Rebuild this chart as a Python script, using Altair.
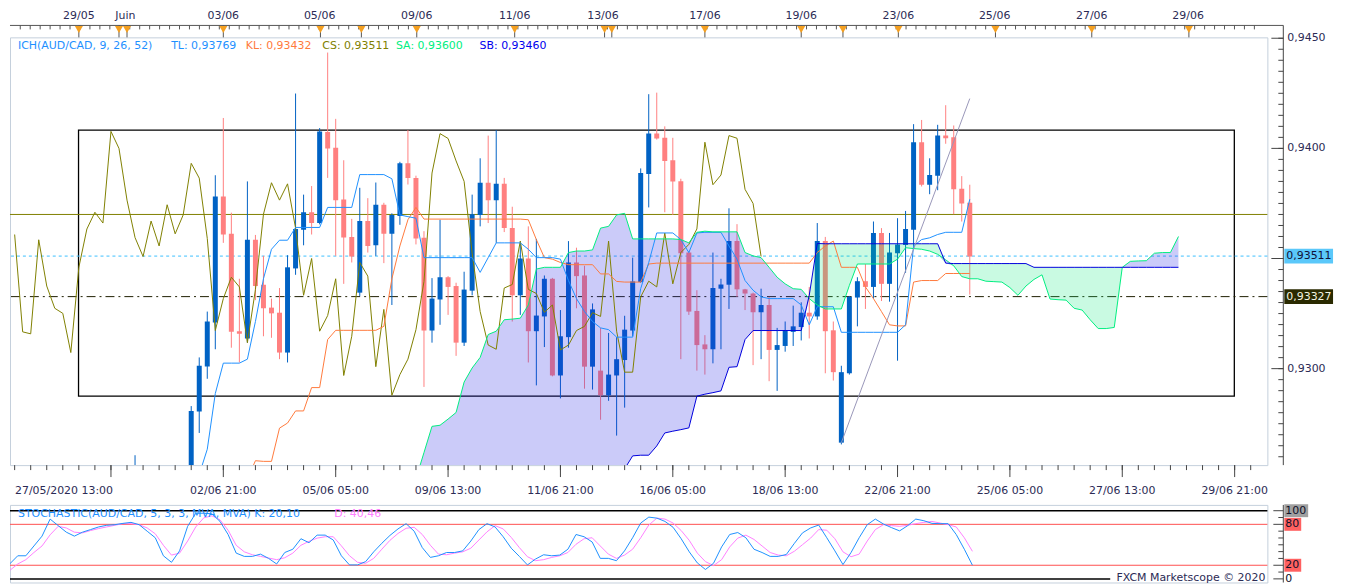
import altair as alt
import pandas as pd
import numpy as np

FONT = "DejaVu Sans"
TXT = "#2b2b55"
W, H, H2 = 1264, 430, 78
XMIN, XMAX = -21.96, 133.46
YMIN, YMAX = 0.92562, 0.94504
SMIN, SMAX = -5.3, 108.5
BULL, BEAR = "#0062c4", "#ff8080"

# ---------------- candles (4H) ----------------
cand_k = [-7] + list(range(98))
opens = [0.9245, 0.9250, 0.92805, 0.93010, 0.93210, 0.93781, 0.93612, 0.93170, 0.93137, 0.93585,
         0.93381, 0.93277, 0.93254, 0.93073, 0.93455, 0.93631, 0.93710, 0.93661, 0.94074, 0.94003,
         0.93768, 0.93598, 0.93345, 0.93670, 0.93560, 0.93744, 0.93612, 0.93693, 0.93932, 0.93865,
         0.93594, 0.93173, 0.93314, 0.93415, 0.93375, 0.93118, 0.93354, 0.93698, 0.93844, 0.93765,
         0.93839, 0.93638, 0.93333, 0.93500, 0.93170, 0.93237, 0.93408, 0.92969, 0.93143, 0.93482,
         0.93423, 0.93009, 0.92991, 0.92879, 0.92969, 0.93039, 0.93173, 0.93393, 0.93884, 0.94067,
         0.94048, 0.93946, 0.93851, 0.93527, 0.93262, 0.93110, 0.93088, 0.93363, 0.93381, 0.93579,
         0.93360, 0.93341, 0.93256, 0.93289, 0.93085, 0.93103, 0.93167, 0.93189, 0.93254, 0.93237,
         0.93579, 0.93174, 0.92664, 0.92979, 0.93323, 0.93397, 0.93371, 0.93616, 0.93385, 0.93524,
         0.93561, 0.93631, 0.94028, 0.93835, 0.93876, 0.94058, 0.94051, 0.93817, 0.93753]
highs = [0.92607, 0.92830, 0.93051, 0.93259, 0.93878, 0.94138, 0.93708, 0.93408, 0.93850, 0.93607,
         0.93512, 0.93318, 0.93366, 0.93515, 0.94249, 0.93790, 0.93829, 0.94092, 0.94435, 0.94134,
         0.93946, 0.93680, 0.93821, 0.93774, 0.93845, 0.93753, 0.93705, 0.93939, 0.94083, 0.93876,
         0.93624, 0.93411, 0.93676, 0.93420, 0.93390, 0.93440, 0.93790, 0.93955, 0.94058, 0.94083,
         0.93866, 0.93735, 0.93571, 0.93646, 0.93589, 0.93423, 0.93412, 0.93266, 0.93579, 0.93549,
         0.93467, 0.93296, 0.93185, 0.93162, 0.93143, 0.93240, 0.93504, 0.93909, 0.94246, 0.94253,
         0.94100, 0.94048, 0.93862, 0.93534, 0.93356, 0.93152, 0.93527, 0.93408, 0.93728, 0.93656,
         0.93362, 0.93345, 0.93363, 0.93326, 0.93185, 0.93214, 0.93286, 0.93301, 0.93371, 0.93661,
         0.93598, 0.93214, 0.93013, 0.93330, 0.93415, 0.93475, 0.93668, 0.93638, 0.93616, 0.93683,
         0.93716, 0.94110, 0.94129, 0.93955, 0.94107, 0.94196, 0.94104, 0.93874, 0.93835]
lows = [0.9240, 0.9245, 0.92708, 0.92954, 0.93088, 0.93571, 0.93095, 0.93028, 0.93118, 0.93311,
        0.93147, 0.93140, 0.93043, 0.93028, 0.93426, 0.93560, 0.93609, 0.93655, 0.93866, 0.93512,
        0.93385, 0.93482, 0.93330, 0.93527, 0.93512, 0.93479, 0.93289, 0.93653, 0.93836, 0.93564,
        0.92917, 0.93118, 0.93199, 0.93244, 0.93058, 0.93103, 0.93333, 0.93646, 0.93661, 0.93571,
        0.93620, 0.93214, 0.93244, 0.93028, 0.92924, 0.93098, 0.92965, 0.92865, 0.93095, 0.93274,
        0.92909, 0.92905, 0.92768, 0.92854, 0.92696, 0.92823, 0.93147, 0.93390, 0.93732, 0.94040,
        0.93710, 0.93698, 0.93043, 0.93244, 0.92991, 0.92973, 0.93024, 0.93088, 0.93271, 0.93326,
        0.93266, 0.93016, 0.93043, 0.92943, 0.92899, 0.93077, 0.93103, 0.93128, 0.93137, 0.93222,
        0.92979, 0.92946, 0.92656, 0.92973, 0.93192, 0.93271, 0.93318, 0.93307, 0.93304, 0.93036,
        0.93435, 0.93542, 0.93827, 0.93792, 0.93810, 0.94021, 0.93701, 0.93668, 0.93336]
closes = [0.9252, 0.92808, 0.93013, 0.93214, 0.93781, 0.93609, 0.93167, 0.93158, 0.93585, 0.93375,
          0.93274, 0.93251, 0.93073, 0.93460, 0.93634, 0.93710, 0.93661, 0.94077, 0.94000, 0.93765,
          0.93595, 0.93509, 0.93670, 0.93557, 0.93744, 0.93612, 0.93698, 0.93932, 0.93865, 0.93591,
          0.93173, 0.93318, 0.93415, 0.93371, 0.93118, 0.93359, 0.93701, 0.93844, 0.93765, 0.93839,
          0.93638, 0.93333, 0.93500, 0.93170, 0.93241, 0.93408, 0.92969, 0.93147, 0.93482, 0.93420,
          0.93009, 0.93269, 0.92879, 0.92973, 0.93043, 0.93177, 0.93396, 0.93888, 0.94067, 0.94045,
          0.93943, 0.93850, 0.93524, 0.93259, 0.93107, 0.93088, 0.93366, 0.93382, 0.93579, 0.93360,
          0.93341, 0.93256, 0.93289, 0.93085, 0.93107, 0.93173, 0.93192, 0.93254, 0.93237, 0.93579,
          0.93170, 0.92984, 0.92984, 0.93326, 0.93397, 0.93371, 0.93616, 0.93385, 0.93527, 0.93564,
          0.93634, 0.94028, 0.93835, 0.93879, 0.94058, 0.94046, 0.93814, 0.93750, 0.93509]

# ---------------- Ichimoku ----------------
tenkan_k = list(range(98))
tenkan = [0.9245, 0.9252, 0.92634, 0.92887, 0.93025, 0.93025, 0.93025, 0.93043, 0.93214, 0.93408,
          0.93542, 0.93583, 0.93583, 0.93641, 0.93641, 0.93641, 0.93641, 0.93732, 0.93732, 0.93732,
          0.93732, 0.93881, 0.93881, 0.93881, 0.93881, 0.93862, 0.93698, 0.93690, 0.93683, 0.93504,
          0.93504, 0.93504, 0.93504, 0.93504, 0.93504, 0.93504, 0.93437, 0.93504, 0.93571, 0.93571,
          0.93571, 0.93571, 0.93542, 0.93504, 0.93504, 0.93504, 0.93497, 0.93400, 0.93318, 0.93259,
          0.93214, 0.93185, 0.93177, 0.93143, 0.93143, 0.93143, 0.93363, 0.93482, 0.93616, 0.93616,
          0.93616, 0.93586, 0.93527, 0.93616, 0.93619, 0.93619, 0.93619, 0.93557, 0.93497, 0.93400,
          0.93356, 0.93326, 0.93318, 0.93318, 0.93318, 0.93318, 0.93289, 0.93199, 0.93281, 0.93281,
          0.93281, 0.93165, 0.93165, 0.93165, 0.93165, 0.93165, 0.93165, 0.93165, 0.93165, 0.93199,
          0.93557, 0.93586, 0.93594, 0.93609, 0.93619, 0.93619, 0.93619, 0.93769]
kijun_k = list(range(7, 98))
kijun = [0.9250, 0.92582, 0.92579, 0.92579, 0.92730, 0.92753, 0.92808, 0.92808, 0.92914, 0.92914,
         0.93132, 0.93174, 0.93174, 0.93174, 0.93174, 0.93174, 0.93174, 0.93192, 0.93408, 0.93557,
         0.93676, 0.93732, 0.93679, 0.93679, 0.93679, 0.93679, 0.93679, 0.93679, 0.93679, 0.93679,
         0.93679, 0.93679, 0.93679, 0.93679, 0.93679, 0.93676, 0.93586, 0.93504, 0.93497, 0.93482,
         0.93472, 0.93472, 0.93472, 0.93472, 0.93430, 0.93430, 0.93396, 0.93393, 0.93393, 0.93393,
         0.93475,
         0.93479, 0.93479, 0.93479, 0.93479, 0.93479, 0.93479, 0.93479, 0.93479, 0.93479, 0.93479,
         0.93479, 0.93479, 0.93479, 0.93479, 0.93479, 0.93479, 0.93479, 0.93479, 0.93479, 0.93479,
         0.93527, 0.93557, 0.93579, 0.93460, 0.93460, 0.93460, 0.93371, 0.93318, 0.93259, 0.93199,
         0.93194, 0.93194, 0.93393, 0.93400, 0.93400, 0.93400, 0.93432, 0.93432, 0.93432, 0.93432]
chikou_k = list(range(-22, 72))
chikou = [0.93609, 0.93167, 0.93158, 0.93585, 0.93375, 0.93274, 0.93251, 0.93073, 0.93460, 0.93634,
          0.93710, 0.93661, 0.94077, 0.94000, 0.93765, 0.93595, 0.93509, 0.93670, 0.93557, 0.93744,
          0.93612, 0.93698, 0.93932, 0.93865, 0.93591, 0.93173, 0.93318, 0.93415, 0.93371, 0.93118,
          0.93359, 0.93701, 0.93844, 0.93765, 0.93839, 0.93638, 0.93333, 0.93500, 0.93170, 0.93241,
          0.93408, 0.92969, 0.93147, 0.93482, 0.93420, 0.93009, 0.93269, 0.92879, 0.92973, 0.93043,
          0.93177, 0.93396, 0.93888, 0.94067, 0.94045, 0.93943, 0.93850, 0.93524, 0.93259, 0.93107,
          0.93088, 0.93366, 0.93382, 0.93579, 0.93360, 0.93341, 0.93256, 0.93289, 0.93085, 0.93107,
          0.93173, 0.93192, 0.93254, 0.93237, 0.93579, 0.93170, 0.92984, 0.92984, 0.93326, 0.93397,
          0.93371, 0.93616, 0.93385, 0.93527, 0.93564, 0.93634, 0.94028, 0.93835, 0.93879, 0.94058,
          0.94046, 0.93814, 0.93750, 0.93509]
cloud_k = list(range(28, 124))
senkou_a = [0.9250, 0.92619, 0.92738, 0.92743, 0.92771, 0.92801, 0.92939, 0.93003, 0.93051, 0.93155,
            0.93170, 0.93222, 0.93225, 0.93229, 0.93289, 0.93452, 0.93460, 0.93460, 0.93460, 0.93527,
            0.93534, 0.93534, 0.93539, 0.93638, 0.93646, 0.93698, 0.93705, 0.93589, 0.93589, 0.93589,
            0.93589, 0.93589, 0.93589, 0.93586, 0.93571, 0.93619, 0.93624, 0.93621, 0.93621, 0.93621,
            0.93621, 0.93527, 0.93512, 0.93504, 0.93460, 0.93415, 0.93385, 0.93363, 0.93360, 0.93318,
            0.93289, 0.93271, 0.93271, 0.93271, 0.93378, 0.93475, 0.93475, 0.93475, 0.93475, 0.93475,
            0.93497, 0.93549, 0.93545, 0.93542, 0.93534, 0.93519, 0.93494, 0.93467, 0.93418, 0.93408,
            0.93408, 0.93397, 0.93395, 0.93393, 0.93368, 0.93333, 0.93375, 0.93405, 0.93426, 0.93316,
            0.93313, 0.93311, 0.93274, 0.93266, 0.93222, 0.93182, 0.93182, 0.93187, 0.93460, 0.93487,
            0.93489, 0.93490, 0.93524, 0.93527, 0.93527, 0.93600]
senkou_b = [0.9250, 0.9250, 0.9250, 0.9250, 0.9250, 0.9250, 0.9250, 0.9250, 0.9250, 0.9250,
            0.9250, 0.9250, 0.9250, 0.9250, 0.9250, 0.9250, 0.9250, 0.9250, 0.9250, 0.9250,
            0.9250, 0.9250, 0.9250, 0.9250, 0.9250, 0.9252, 0.92545, 0.92604, 0.92607, 0.92607,
            0.92649, 0.92708, 0.92716, 0.92723, 0.92731, 0.92875, 0.92884, 0.92891, 0.92899, 0.93006,
            0.93009, 0.93132, 0.93173, 0.93173, 0.93173, 0.93173, 0.93173, 0.93173, 0.93173, 0.93333,
            0.93568, 0.93567, 0.93567, 0.93567, 0.93567, 0.93567, 0.93567, 0.93567, 0.93567, 0.93567,
            0.93567, 0.93567, 0.93567, 0.93567, 0.93567, 0.93567, 0.93479, 0.93477, 0.93477, 0.93477,
            0.93477, 0.93477, 0.93477, 0.93477, 0.93477, 0.93477, 0.93477, 0.93460, 0.93460, 0.93460,
            0.93460, 0.93460, 0.93460, 0.93460, 0.93460, 0.93460, 0.93460, 0.93460, 0.93460, 0.93460,
            0.93460, 0.93460, 0.93460, 0.93460, 0.93460, 0.93460]

# drawn objects
box_k = [-14.04, 129.96]
box_p = [0.94083, 0.92875]
trend_k = [81, 97]
trend_p = [0.92664, 0.94226]
level_olive, level_cs, level_dash = 0.93700, 0.93511, 0.93327

# ---------------- Stochastic ----------------
stoch_k = list(range(-22, 98))
stoch_K = [21.9, 33.9, 33.9, 48.3, 62.7, 87.7, 78.1, 68.5, 62.7, 68.5,
           72.3, 76.2, 78.6, 79.5, 81.4, 82.9, 79.5, 69.9, 60.3, 33.9,
           24.3, 41.1, 77.1, 96.3, 96.3, 95.4, 84.3, 65.1, 37.8, 33.0,
           33.0, 36.3, 30.1, 21.9, 38.7, 43.5, 58.9, 53.1, 64.2, 64.2,
           57.0, 33.9, 20.5, 20.5, 25.3, 39.7, 52.2, 63.7, 73.3, 81.0,
           69.9, 45.9, 31.5, 33.9, 38.7, 38.7, 41.1, 55.5, 72.3, 81.0,
           76.2, 61.8, 45.0, 33.0, 20.5, 29.1, 35.4, 33.9, 34.9, 43.5,
           65.1, 61.8, 54.1, 30.1, 30.1, 26.7, 41.1, 60.3, 81.9, 90.6,
           89.1, 84.3, 75.7, 58.9, 39.7, 23.4, 13.8, 22.9, 46.9, 65.1,
           68.0, 60.3, 43.5, 38.7, 33.0, 33.0, 35.8, 52.2, 67.5, 74.7,
           79.0, 60.3, 41.1, 21.0, 38.7, 60.3, 79.5, 87.7, 80.5, 75.2,
           70.4, 78.1, 87.7, 85.3, 81.4, 81.0, 81.0, 65.1, 43.5, 20.1]
stoch_D = [12.3, 21.9, 28.2, 38.7, 48.3, 64.6, 77.1, 74.7, 68.5, 67.5,
           70.9, 73.8, 76.2, 78.6, 81.0, 81.0, 79.5, 74.7, 66.1, 49.3,
           34.9, 37.8, 55.5, 76.2, 89.6, 92.5, 86.7, 71.4, 49.3, 39.7,
           35.4, 33.0, 30.6, 28.2, 31.0, 37.8, 49.3, 55.0, 59.8, 61.8,
           61.8, 48.5, 34.0, 24.3, 22.9, 30.1, 43.5, 56.5, 66.6, 74.2,
           75.7, 65.1, 49.3, 36.3, 35.4, 37.8, 39.7, 45.0, 57.0, 69.0,
           78.1, 73.3, 60.8, 45.9, 32.5, 26.7, 28.2, 31.5, 33.9, 38.7,
           50.7, 58.9, 60.3, 48.3, 36.3, 30.1, 34.9, 43.5, 60.3, 79.0,
           89.1, 87.7, 81.9, 70.9, 56.5, 37.8, 25.3, 19.5, 28.2, 46.9,
           59.8, 64.2, 57.9, 48.3, 38.7, 34.9, 33.9, 40.6, 50.2, 59.8,
           72.3, 71.4, 58.9, 39.7, 32.5, 36.3, 55.5, 72.3, 79.5, 78.1,
           77.1, 78.6, 81.0, 82.9, 84.3, 81.9, 79.5, 76.2, 60.3, 40.46]

# ---------------- axis labels ----------------
top_labels = ["29/05", "Juin", "03/06", "05/06", "09/06", "11/06", "13/06", "17/06", "19/06",
              "23/06", "25/06", "27/06", "29/06"]
top_pos = [-14.0, -8.2, 4.0, 16.0, 28.1, 40.3, 51.3, 64.0, 76.0, 88.1, 100.1, 112.2, 124.2]
event_pos = [-14.0, -9.0, -8.0, 4.0, 16.1, 21.2, 28.1, 40.3, 51.5, 52.4, 64.0, 76.0, 81.2,
             88.1, 100.2, 112.2, 124.3]
bottom_labels = ["27/05/2020 13:00", "02/06 21:00", "05/06 05:00", "09/06 13:00", "11/06 21:00",
                 "16/06 05:00", "18/06 13:00", "22/06 21:00", "25/06 05:00", "27/06 13:00",
                 "29/06 21:00"]
bottom_pos = [XMIN, 4, 18, 32, 46, 60, 74, 88, 102, 116, 130]
bottom_major = [-10, 4, 18, 32, 46, 60, 74, 88, 102, 116, 130]
price_major = [0.9300, 0.9350, 0.9400, 0.9450]
price_lab_vals = [0.9300, 0.9400, 0.9450]
price_labels = ["0,9300", "0,9400", "0,9450"]
stoch_labels = ["100", "80", "20", "0"]
stoch_major = [100, 80, 20, 0]

# ---------------- helpers ----------------
xs = alt.Scale(domain=[XMIN, XMAX], nice=False, zero=False)
ys = alt.Scale(domain=[YMIN, YMAX], nice=False, zero=False)
ss = alt.Scale(domain=[SMIN, SMAX], nice=False, zero=False)
dummy = pd.DataFrame({"d": [0]})


def X(f="k"):
    return alt.X(f"{f}:Q", scale=xs, axis=None)


def Y(f, sc=None):
    return alt.Y(f"{f}:Q", scale=sc or ys, axis=None)


def label(txt, x, y, color, align="left", size=11, baseline="middle"):
    return alt.Chart(dummy).mark_text(text=txt, font=FONT, fontSize=size, color=color,
                                      align=align, baseline=baseline).encode(
        x=alt.value(x), y=alt.value(y))


def hrule(x1, x2, y, color, width=1):
    return alt.Chart(dummy).mark_rule(color=color, strokeWidth=width).encode(
        x=alt.value(x1), x2=alt.value(x2), y=alt.value(y))


# ---------------- main panel ----------------
cdf = pd.DataFrame(dict(k=cand_k, o=opens, h=highs, l=lows, c=closes))
cdf["col"] = np.where(cdf.c >= cdf.o, BULL, BEAR)
wicks = alt.Chart(cdf).mark_rule(clip=True, strokeWidth=1).encode(
    x=X(), y=Y("l"), y2="h:Q", color=alt.Color("col:N", scale=None))
bodies = alt.Chart(cdf).mark_bar(clip=True, size=5).encode(
    x=X(), y=Y("o"), y2="c:Q", color=alt.Color("col:N", scale=None))

cl = pd.DataFrame(dict(k=cloud_k, sa=senkou_a, sb=senkou_b))
cl["lo"] = cl[["sa", "sb"]].min(axis=1)
lav = alt.Chart(cl).mark_area(clip=True, color="#2424e6", opacity=0.24).encode(
    x=X(), y=Y("sa"), y2="lo:Q")
mint = alt.Chart(cl).mark_area(clip=True, color="#00e676", opacity=0.21).encode(
    x=X(), y=Y("sb"), y2="lo:Q")
sa_line = alt.Chart(cl).mark_line(clip=True, color="#00ee80", strokeWidth=1).encode(x=X(), y=Y("sa"))
sb_line = alt.Chart(cl).mark_line(clip=True, color="#0000dd", strokeWidth=1).encode(x=X(), y=Y("sb"))


def series(kk, vv, color):
    d = pd.DataFrame(dict(k=kk, v=vv))
    return alt.Chart(d).mark_line(clip=True, color=color, strokeWidth=1).encode(x=X(), y=Y("v"))


tl_line = series(tenkan_k, tenkan, "#1e90ff")
kl_line = series(kijun_k, kijun, "#ff7a3c")
cs_line = series(chikou_k, chikou, "#808000")

lv = pd.DataFrame(dict(p=[level_olive]))
lv_olive = alt.Chart(lv).mark_rule(color="#808000", strokeWidth=1).encode(y=Y("p"))
lv2 = pd.DataFrame(dict(p=[level_cs]))
lv_cs = alt.Chart(lv2).mark_rule(color="#3cc0ff", strokeWidth=1, strokeDash=[3, 3]).encode(y=Y("p"))
lv3 = pd.DataFrame(dict(p=[level_dash]))
lv_dd = alt.Chart(lv3).mark_rule(color="#1e1e00", strokeWidth=1, strokeDash=[9, 4, 2, 4]).encode(y=Y("p"))

bx = pd.DataFrame(dict(k1=[box_k[0]], k2=[box_k[1]], p1=[box_p[0]], p2=[box_p[1]]))
rect = alt.Chart(bx).mark_rect(fillOpacity=0, stroke="black", strokeWidth=1.3).encode(
    x=X("k1"), x2="k2:Q", y=Y("p1"), y2="p2:Q")
tr = pd.DataFrame(dict(k=trend_k, v=trend_p))
trend = alt.Chart(tr).mark_line(color="#9896b8", strokeWidth=1).encode(x=X(), y=Y("v"))

# top axis (ruler)
top_rule = hrule(0, W + 16, -12, "#555555")
minor_top = pd.DataFrame(dict(k=np.arange(-21.3, 133.3, 1.24)))
top_minor = alt.Chart(minor_top).mark_rule(color="#555555").encode(
    x=X(), y=alt.value(-12), y2=alt.value(-8))
ev = pd.DataFrame(dict(k=event_pos))
top_major = alt.Chart(ev).mark_rule(color="#555555").encode(x=X(), y=alt.value(-12), y2=alt.value(0))
tri = alt.Chart(ev).mark_point(shape="triangle-down", filled=True, color="#f5a020", opacity=1,
                               size=65).encode(x=X(), y=alt.value(-8))
tl_df = pd.DataFrame(dict(k=top_pos, t=top_labels))
top_text = alt.Chart(tl_df).mark_text(font=FONT, fontSize=11, color=TXT, baseline="middle").encode(
    x=X(), y=alt.value(-21), text="t:N")

# bottom axis
bm = pd.DataFrame(dict(k=np.arange(-22, 134, 2)))
bot_minor = alt.Chart(bm).mark_rule(color="#444444").encode(x=X(), y=alt.value(H), y2=alt.value(H + 5))
bj = pd.DataFrame(dict(k=bottom_major))
bot_major = alt.Chart(bj).mark_rule(color="#444444").encode(x=X(), y=alt.value(H), y2=alt.value(H + 12))
bl_first = pd.DataFrame(dict(k=bottom_pos[:1], t=bottom_labels[:1]))
bl_rest = pd.DataFrame(dict(k=bottom_pos[1:], t=bottom_labels[1:]))
bot_text1 = alt.Chart(bl_first).mark_text(font=FONT, fontSize=11, color=TXT, align="left",
                                           baseline="middle").encode(x=X(), y=alt.value(H + 26), text="t:N")
bot_text2 = alt.Chart(bl_rest).mark_text(font=FONT, fontSize=11, color=TXT, align="center",
                                          baseline="middle").encode(x=X(), y=alt.value(H + 26), text="t:N")

# right price axis
r_line = alt.Chart(dummy).mark_rule(color="#444444").encode(
    x=alt.value(W + 16), y=alt.value(-12), y2=alt.value(H))
pm = pd.DataFrame(dict(p=np.arange(0.9260, 0.94505, 0.0005)))
r_minor = alt.Chart(pm).mark_rule(color="#444444").encode(
    x=alt.value(W + 11), x2=alt.value(W + 16), y=Y("p"))
pj = pd.DataFrame(dict(p=price_major))
r_major = alt.Chart(pj).mark_rule(color="#444444").encode(
    x=alt.value(W + 4), x2=alt.value(W + 16), y=Y("p"))
pl = pd.DataFrame(dict(p=price_lab_vals, t=price_labels))
r_text = alt.Chart(pl).mark_text(font=FONT, fontSize=11, color=TXT, align="left",
                                 baseline="middle").encode(x=alt.value(W + 20), y=Y("p"), text="t:N")


def price_box(p, txt, bg, fg):
    d = pd.DataFrame(dict(p=[p], t=[txt]))
    b = alt.Chart(d).mark_rule(color=bg, strokeWidth=15).encode(
        x=alt.value(W + 17), x2=alt.value(W + 66), y=Y("p"))
    t = alt.Chart(d).mark_text(font=FONT, fontSize=11, color=fg, align="left", baseline="middle").encode(
        x=alt.value(W + 19), y=Y("p"), text="t:N")
    return [b, t]


boxes = price_box(level_cs, "0,93511", "#5ac8fa", "#101038") + \
    price_box(level_dash, "0,93327", "#2a2a00", "#f4f4e0")

legend = [
    label("ICH(AUD/CAD, 9, 26, 52)", 8, 9, "#1e90ff"),
    label("TL: 0,93769", 162, 9, "#1e90ff"),
    label("KL: 0,93432", 237, 9, "#ff7a3c"),
    label("CS: 0,93511", 314, 9, "#808000"),
    label("SA: 0,93600", 388, 9, "#00ee80"),
    label("SB: 0,93460", 472, 9, "#0000ee"),
]

main = alt.layer(
    rect, lv_olive, lv_cs, lv_dd,
    wicks, bodies,
    lav, mint,
    cs_line, kl_line, tl_line, sa_line, sb_line, trend,
    top_rule, top_minor, top_major, tri, top_text,
    bot_minor, bot_major, bot_text1, bot_text2,
    r_line, r_minor, r_major, r_text, *boxes, *legend,
).properties(width=W, height=H)

# ---------------- stochastic panel ----------------
sd = pd.DataFrame(dict(k=stoch_k, K=stoch_K, D=stoch_D))
d_line = alt.Chart(sd).mark_line(color="#ff80ff", strokeWidth=1, clip=True).encode(x=X(), y=Y("D", ss))
k_line = alt.Chart(sd).mark_line(color="#1e90ff", strokeWidth=1, clip=True).encode(x=X(), y=Y("K", ss))
red_lv = pd.DataFrame(dict(v=[80, 20]))
red_rules = alt.Chart(red_lv).mark_rule(color="#ff5050", strokeWidth=1).encode(y=Y("v", ss))
top100 = pd.DataFrame(dict(v=[100]))
rule100 = alt.Chart(top100).mark_rule(color="black", strokeWidth=1.5).encode(y=Y("v", ss))
zero = pd.DataFrame(dict(v=[0]))
rule0 = alt.Chart(zero).mark_rule(color="black", strokeWidth=1.5).encode(
    x=alt.value(0), x2=alt.value(W - 158), y=Y("v", ss))

s_rline = alt.Chart(dummy).mark_rule(color="#444444").encode(
    x=alt.value(W + 16), y=alt.value(0), y2=alt.value(H2))
smn = pd.DataFrame(dict(v=[10, 30, 40, 50, 60, 70, 90]))
s_minor = alt.Chart(smn).mark_rule(color="#444444").encode(
    x=alt.value(W + 11), x2=alt.value(W + 16), y=Y("v", ss))
sj = pd.DataFrame(dict(v=stoch_major, t=stoch_labels))
s_major = alt.Chart(sj).mark_rule(color="#444444").encode(
    x=alt.value(W + 6), x2=alt.value(W + 16), y=Y("v", ss))


def s_box(v, w, bg):
    d = pd.DataFrame(dict(v=[v]))
    return alt.Chart(d).mark_rule(color=bg, strokeWidth=13).encode(
        x=alt.value(W + 17), x2=alt.value(W + 17 + w), y=Y("v", ss))


s_boxes = [s_box(100, 24, "#a0a0a0"), s_box(80, 17, "#ff6060"), s_box(20, 17, "#ff6060")]
s_text = alt.Chart(sj).mark_text(font=FONT, fontSize=11, color="#101028", align="left",
                                 baseline="middle").encode(x=alt.value(W + 18), y=Y("v", ss), text="t:N")

s_legend = [
    label("STOCHASTIC(AUD/CAD, 5, 3, 3, MVA, MVA)  K: 20,10", 8, 9, "#1e90ff"),
    label("D: 40,46", 326, 9, "#ff80ff"),
    label("FXCM Marketscope © 2020", W - 2, H2 - 5, TXT, align="right"),
]

stoch = alt.layer(
    red_rules, rule100, rule0, d_line, k_line,
    s_rline, s_minor, s_major, *s_boxes, s_text, *s_legend,
).properties(width=W, height=H2)

chart = alt.vconcat(main, stoch, spacing=40, bounds="flush").properties(
    padding=0, background="white"
).configure_view(stroke="#c5d0dc", strokeWidth=1)

chart.save("out.html", embed_options={"renderer": "svg", "actions": False})
